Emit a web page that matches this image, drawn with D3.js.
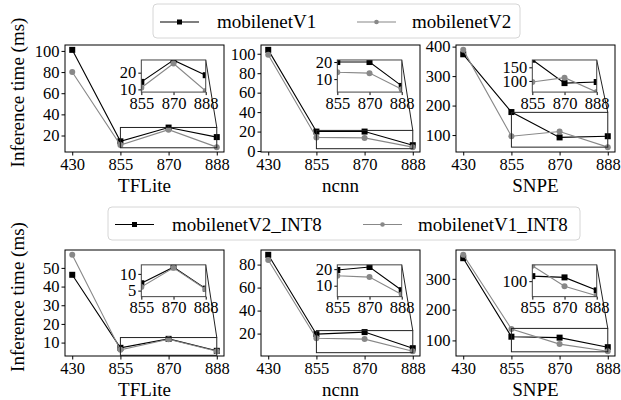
<!DOCTYPE html>
<html>
<head>
<meta charset="utf-8">
<script src="https://cdn.jsdelivr.net/npm/d3@7"></script>
<style>
  body { margin: 0; background: #fff; }
  svg text { font-family: "Liberation Serif", Tinos, "Times New Roman", "DejaVu Serif", serif; }
</style>
</head>
<body>
<script>
// x categories (SoC) and frameworks
var categories = ["430", "855", "870", "888"];
var frameworks = ["TFLite", "ncnn", "SNPE"];

// inference time (ms), one row per framework: TFLite, ncnn, SNPE
var mobilenetV1 = [[101, 14.5, 27.5, 18.5], [104, 20, 20, 6], [374, 178, 92, 96]];
var mobilenetV2 = [[80, 11, 25.5, 9], [99, 14, 13.5, 4], [389, 96, 112, 59]];
var mobilenetV2_INT8 = [[46.3, 7.2, 12, 5.6], [88.5, 19.5, 21.3, 7.3], [367, 112, 109, 78]];
var mobilenetV1_INT8 = [[57, 6.1, 11.8, 5.4], [84, 16, 15.2, 4.7], [378, 137, 88, 65]];

// y limits of the zoomed insets
var insetTop = [[8.4, 27.6], [2.4, 21.2], [59, 177]];
var insetBottom = [[3.2, 12.7], [3.4, 22.6], [63, 139]];

var rows = [
    { names: ["mobilenetV1", "mobilenetV2"], series: [mobilenetV1, mobilenetV2], inset: insetTop },
    { names: ["mobilenetV2_INT8", "mobilenetV1_INT8"], series: [mobilenetV2_INT8, mobilenetV1_INT8], inset: insetBottom }
];

var width = 621, height = 400;
var axLefts = [65, 261, 456], axW = 159;
var axTops = [45, 250], axHs = [107, 106];
var tickCounts = [5, 5, 4];
var colors = ["#000", "#888"];
var tickFont = "16.5px", labelFont = "19px";

var svg = d3.select("body").append("svg")
    .attr("width", width)
    .attr("height", height);

// draw one series (line + markers) into a group using given scales
var drawSeries = function (g, vals, k, x, y) {
    var line = d3.line()
        .x(function (d, i) { return x(categories[i]); })
        .y(function (d) { return y(d); });
    g.append("path")
        .datum(vals)
        .attr("d", line)
        .style("fill", "none")
        .style("stroke", colors[k])
        .style("stroke-width", "1.1px");
    if (k === 0) {
        g.selectAll(null).data(vals).enter().append("rect")
            .attr("x", function (d, i) { return x(categories[i]) - 3; })
            .attr("y", function (d) { return y(d) - 3; })
            .attr("width", 6).attr("height", 6)
            .style("fill", colors[k]);
    } else {
        g.selectAll(null).data(vals).enter().append("circle")
            .attr("cx", function (d, i) { return x(categories[i]); })
            .attr("cy", function (d) { return y(d); })
            .attr("r", 3)
            .style("fill", colors[k]);
    }
};

var styleAxis = function (g) {
    g.attr("font-family", null);
    g.select(".domain").remove();
    g.selectAll("text")
        .style("font-size", tickFont)
        .style("fill", "#000");
    g.selectAll("line").style("stroke", "#000");
};

rows.forEach(function (row, r) {
    var top = axTops[r], axH = axHs[r];

    // y label
    svg.append("text")
        .attr("transform", "translate(24," + (top + axH / 2 - 6) + ") rotate(-90)")
        .attr("text-anchor", "middle")
        .style("font-size", labelFont)
        .text("Inference time (ms)");

    frameworks.forEach(function (fw, c) {
        var left = axLefts[c];
        var all = row.series[0][c].concat(row.series[1][c]);
        var lo = d3.min(all), hi = d3.max(all), pad = (hi - lo) * 0.05;

        var x = d3.scalePoint().domain(categories).range([0, axW]).padding(0.15);
        var y = d3.scaleLinear().domain([lo - pad, hi + pad]).range([axH, 0]);

        var ax = svg.append("g").attr("transform", "translate(" + left + "," + top + ")");

        ax.append("g")
            .attr("transform", "translate(0," + axH + ")")
            .call(d3.axisBottom(x).tickSize(3.5).tickPadding(3))
            .call(styleAxis);
        ax.append("g")
            .call(d3.axisLeft(y).ticks(tickCounts[c]).tickSize(3.5).tickPadding(2))
            .call(styleAxis);

        row.series.forEach(function (s, k) { drawSeries(ax, s[c], k, x, y); });

        // zoom window in the main axes
        var ir = row.inset[c];
        var rx0 = x(categories[1]), rx1 = x(categories[3]);
        ax.append("rect")
            .attr("x", rx0).attr("y", y(ir[1]))
            .attr("width", rx1 - rx0).attr("height", y(ir[0]) - y(ir[1]))
            .style("fill", "none").style("stroke", "#222").style("stroke-width", "1px");

        ax.append("rect")
            .attr("width", axW).attr("height", axH)
            .style("fill", "none").style("stroke", "#000").style("stroke-width", "1px");

        ax.append("text")
            .attr("x", axW / 2).attr("y", axH + 40)
            .attr("text-anchor", "middle")
            .style("font-size", labelFont)
            .text(fw);

        // inset
        var ix = axW * 0.48, iy = axH * 0.14, iw = axW * 0.405, ih = axH * 0.3;
        var xi = d3.scalePoint().domain(categories.slice(1)).range([0, iw]).padding(0);
        var yi = d3.scaleLinear().domain(ir).range([ih, 0]);

        // connector from inset corner to zoom window corner
        ax.append("line")
            .attr("x1", ix + iw).attr("y1", iy)
            .attr("x2", rx1).attr("y2", y(ir[1]))
            .style("stroke", "#222").style("stroke-width", "1px");

        var ins = ax.append("g").attr("transform", "translate(" + ix + "," + iy + ")");
        var clipId = "clip" + r + c;
        ins.append("clipPath").attr("id", clipId)
            .append("rect").attr("width", iw).attr("height", ih);
        ins.append("rect").attr("width", iw).attr("height", ih).style("fill", "#fff");

        ins.append("g")
            .attr("transform", "translate(0," + ih + ")")
            .call(d3.axisBottom(xi).tickSize(3).tickPadding(2))
            .call(styleAxis);
        ins.append("g")
            .call(d3.axisLeft(yi).ticks(2).tickSize(3).tickPadding(2))
            .call(styleAxis);

        var plot = ins.append("g").attr("clip-path", "url(#" + clipId + ")");
        var xiFull = function (cat) { return cat === categories[0] ? -iw / 2 : xi(cat); };
        row.series.forEach(function (s, k) { drawSeries(plot, s[c], k, xiFull, yi); });

        ins.append("rect")
            .attr("width", iw).attr("height", ih)
            .style("fill", "none").style("stroke", "#444").style("stroke-width", "1px");
    });
});

// legends
var legends = [
    { box: [153, 4, 367, 34], items: [[160, 217], [357, 412]], names: rows[0].names },
    { box: [108, 207, 472, 33], items: [[115, 172], [363, 418]], names: rows[1].names }
];
legends.forEach(function (lg) {
    var b = lg.box;
    svg.append("rect")
        .attr("x", b[0]).attr("y", b[1]).attr("width", b[2]).attr("height", b[3])
        .attr("rx", 4)
        .style("fill", "#fff").style("stroke", "#d6d6d6").style("stroke-width", "1px");
    var cy = b[1] + b[3] / 2 + 1;
    lg.items.forEach(function (it, k) {
        svg.append("line")
            .attr("x1", it[0]).attr("x2", it[0] + 39)
            .attr("y1", cy).attr("y2", cy)
            .style("stroke", colors[k]).style("stroke-width", "1.1px");
        if (k === 0) {
            svg.append("rect").attr("x", it[0] + 17).attr("y", cy - 2.5)
                .attr("width", 5).attr("height", 5).style("fill", colors[k]);
        } else {
            svg.append("circle").attr("cx", it[0] + 19.5).attr("cy", cy)
                .attr("r", 2.3).style("fill", colors[k]);
        }
        svg.append("text")
            .attr("x", it[1]).attr("y", cy + 6)
            .style("font-size", labelFont)
            .text(lg.names[k]);
    });
});
</script>
</body>
</html>
